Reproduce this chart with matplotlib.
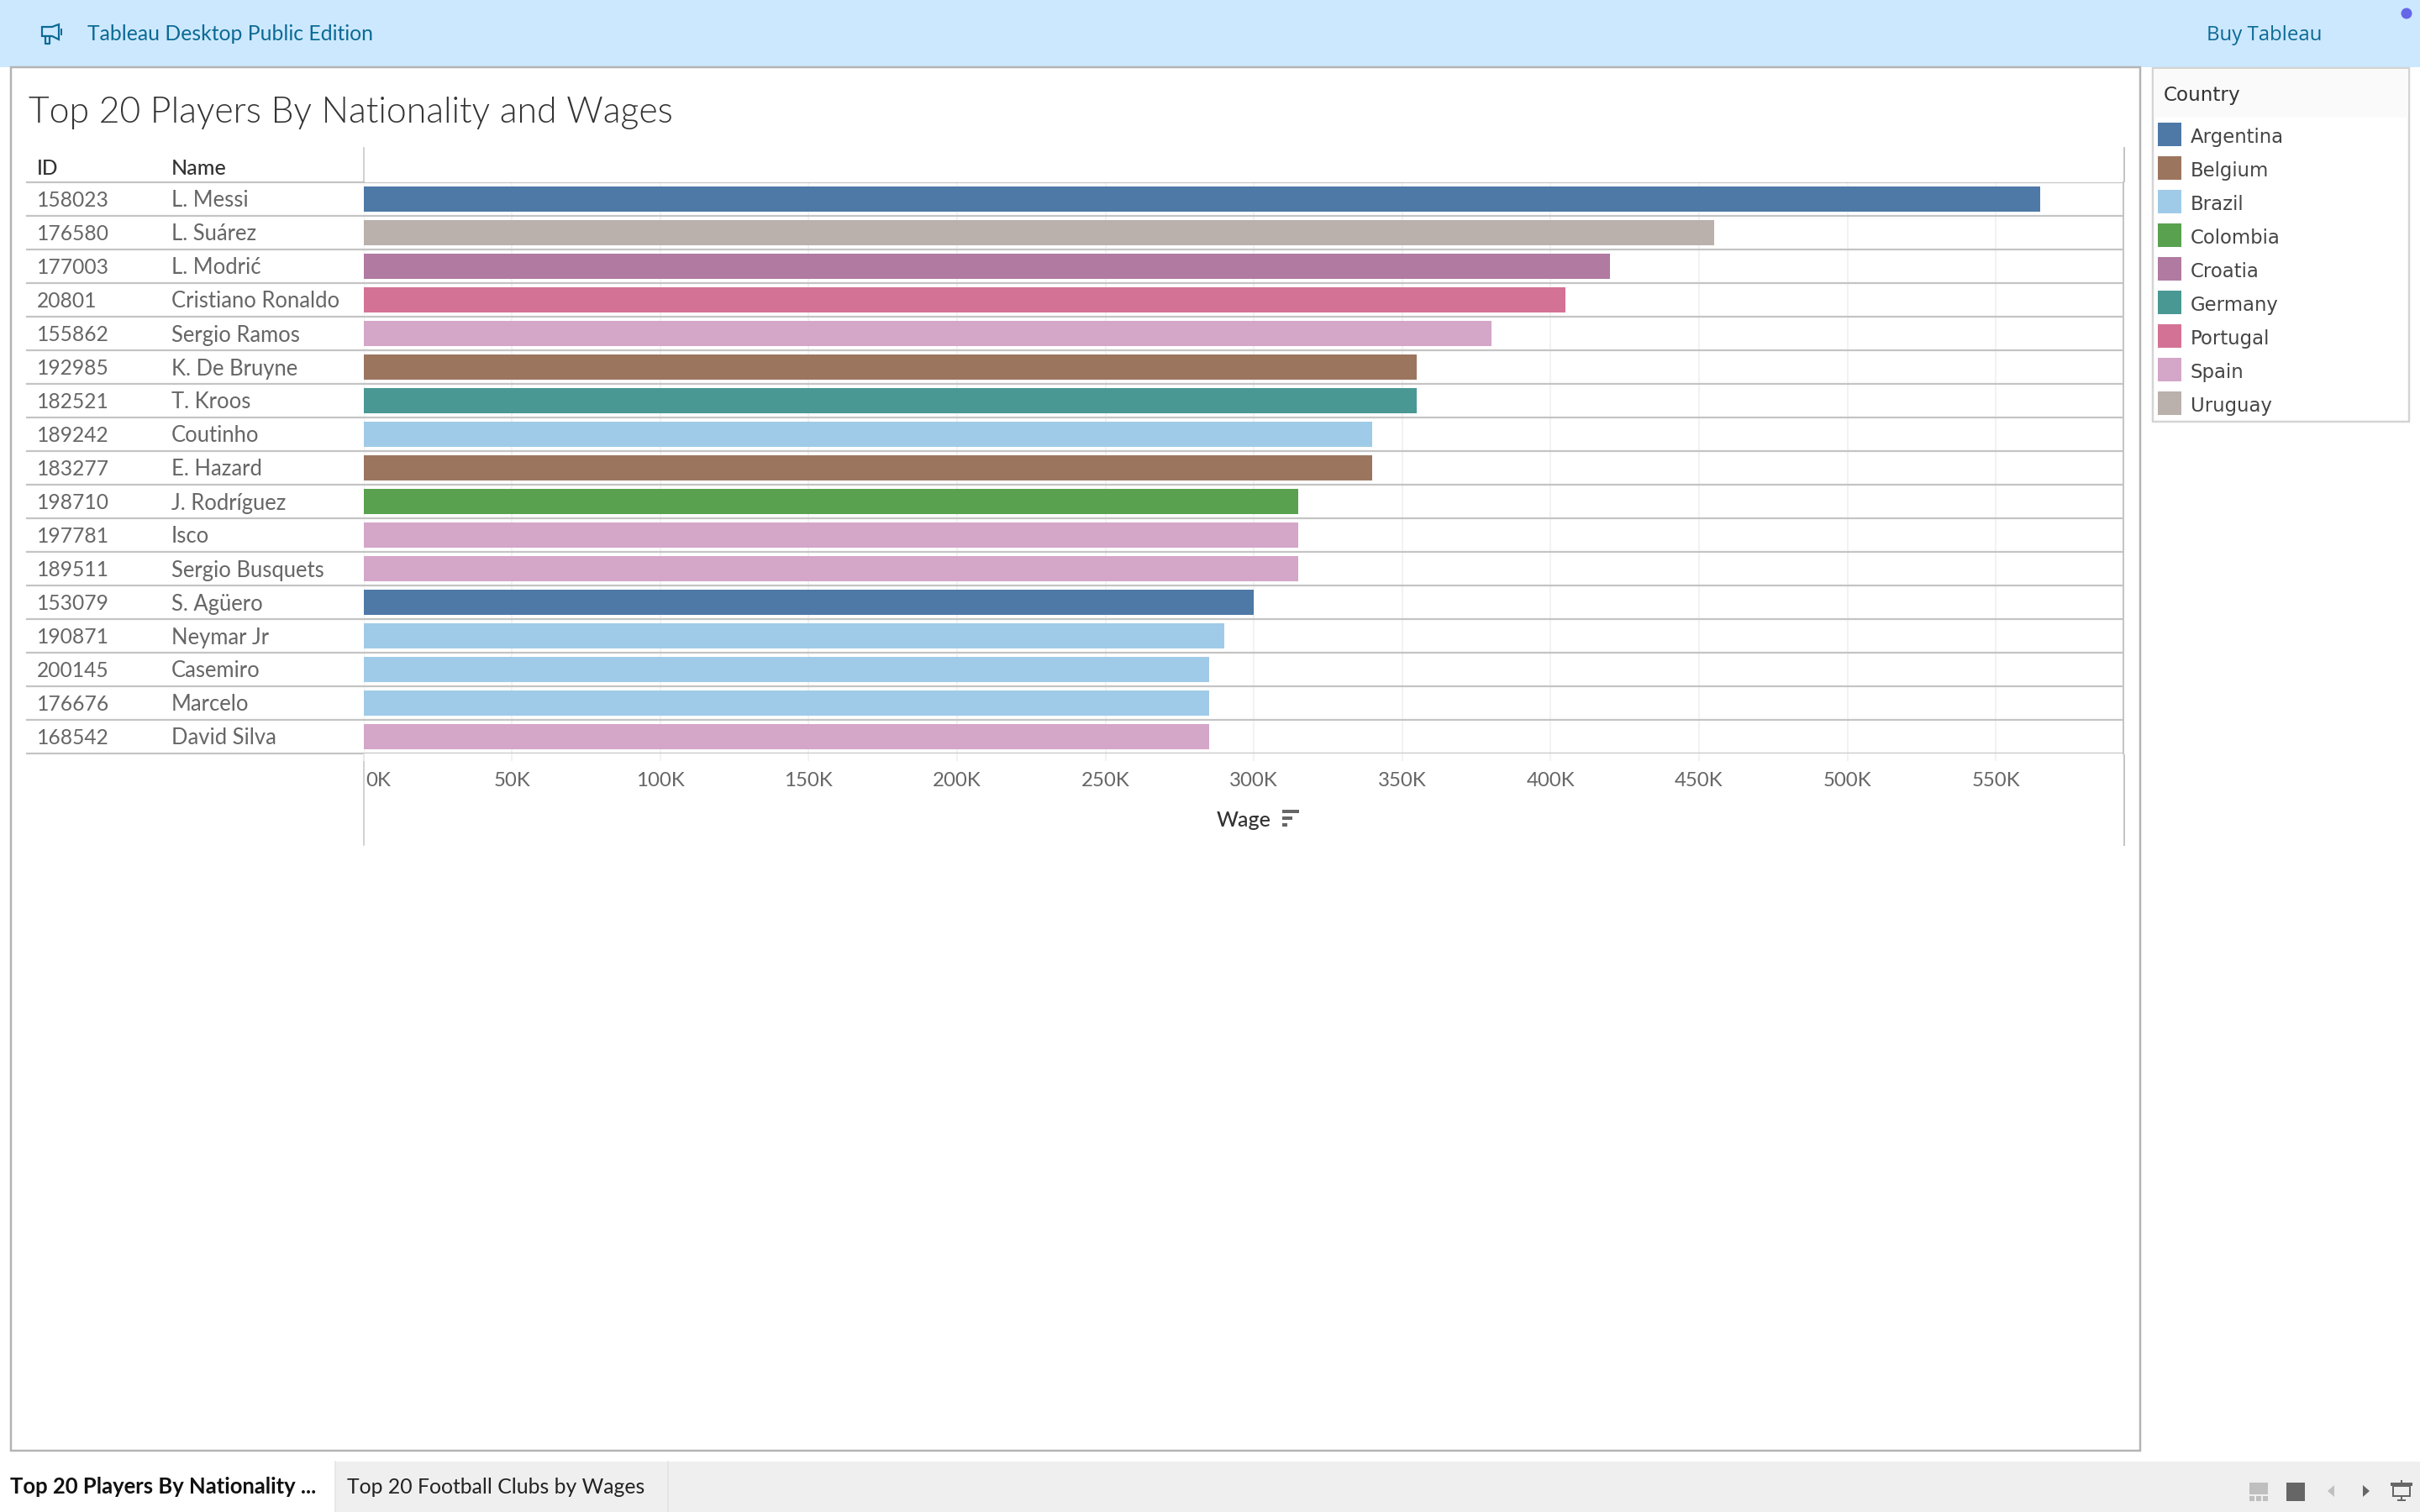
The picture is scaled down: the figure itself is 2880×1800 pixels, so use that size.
# coding: utf-8
import matplotlib
matplotlib.use("Agg")
import matplotlib.pyplot as plt
from matplotlib.patches import Rectangle, Polygon, Circle
from matplotlib.transforms import ScaledTranslation

ids = ["158023", "176580", "177003", "20801", "155862", "192985", "182521", "189242", "183277",
       "198710", "197781", "189511", "153079", "190871", "200145", "176676", "168542"]
names = ["L. Messi", "L. Suárez", "L. Modrić", "Cristiano Ronaldo", "Sergio Ramos", "K. De Bruyne",
         "T. Kroos", "Coutinho", "E. Hazard", "J. Rodríguez", "Isco", "Sergio Busquets", "S. Agüero",
         "Neymar Jr", "Casemiro", "Marcelo", "David Silva"]
wages = [565, 455, 420, 405, 380, 355, 355, 340, 340, 315, 315, 315, 300, 290, 285, 285, 285]
player_country = ["Argentina", "Uruguay", "Croatia", "Portugal", "Spain", "Belgium", "Germany", "Brazil",
                  "Belgium", "Colombia", "Spain", "Spain", "Argentina", "Brazil", "Brazil", "Brazil", "Spain"]
countries = ["Argentina", "Belgium", "Brazil", "Colombia", "Croatia", "Germany", "Portugal", "Spain", "Uruguay"]
country_colors = ["#4e79a7", "#9c755f", "#a0cbe8", "#59a14f", "#b07aa1", "#499894", "#d37295", "#d4a6c8", "#bab0ac"]
wage_ticks = [0, 50, 100, 150, 200, 250, 300, 350, 400, 450, 500, 550]

W, H = 2880, 1800
PX = 72 / 100  # one pixel in points

fig = plt.figure(figsize=(W / 100, H / 100), dpi=100, facecolor="white")

# page chrome, drawn in pixel coordinates
page = fig.add_axes([0, 0, 1, 1], zorder=0)
page.set_xlim(0, W)
page.set_ylim(H, 0)
page.axis("off")

BODY = "Lato"
LINE = "#c4c4c4"
TEAL = "#0b6a94"


def label(x, y, s, size, color="#666666", family=BODY, weight="normal", ha="left"):
    page.text(x, y, s, fontsize=size * PX, color=color, family=family, weight=weight, ha=ha, va="baseline")


def box(x0, y0, x1, y1, **kw):
    page.add_patch(Rectangle((x0, y0), x1 - x0, y1 - y0, **kw))


box(0, 0, W, 80, fc="#cce8ff", ec="none")
box(13, 80, 2547, 1727, fc="white", ec="#b4b4b4", lw=2.5 * PX)

# top banner
page.add_patch(Polygon([(50, 32), (62, 32), (70, 29), (70, 47), (62, 43), (50, 43)], closed=True,
                       fc="none", ec=TEAL, lw=2.2 * PX))
page.plot([54, 54, 59, 59], [43, 52, 52, 43], color=TEAL, lw=2.2 * PX)
page.plot([73, 73], [35, 41], color=TEAL, lw=2 * PX)
label(104, 48, "Tableau Desktop Public Edition", 24.8, TEAL, family="Lato")
label(2626, 48, "Buy Tableau", 24, TEAL, family="Open Sans")
page.add_patch(Circle((2864, 16), 6.5, fc="#6666e8", ec="none"))

label(34, 146, "Top 20 Players By Nationality and Wages", 42.7, "#333333", weight=300)

# table header and rows
label(44, 208, "ID", 24.5, "#333333", weight="medium")
label(204, 208, "Name", 25, "#333333", weight="medium")
page.plot([433, 433], [176, 216], color=LINE, lw=1.5 * PX)
page.plot([2528, 2528], [176, 216], color=LINE, lw=2 * PX)
page.plot([433, 433], [899, 1006], color=LINE, lw=1.5 * PX)
page.plot([2528, 2528], [899, 1006], color=LINE, lw=2 * PX)
page.plot([2527, 2527], [217, 897], color=LINE, lw=2 * PX)
for i in range(18):
    page.plot([32, 433], [217 + 40 * i, 217 + 40 * i], color=LINE, lw=2.2 * PX)
for i, (pid, name) in enumerate(zip(ids, names)):
    label(44, 246.5 + 40 * i, pid, 24.6)
    label(204, 246.5 + 40 * i, name, 25.6)

# the bars
ax = fig.add_axes([432.5 / W, 1 - 897 / H, (2527 - 432.5) / W, 680 / H], zorder=1)
ax.patch.set_alpha(0)
colors = [country_colors[countries.index(c)] for c in player_country]
ax.barh(range(len(wages)), wages, height=0.75, color=colors, zorder=3)
ax.set_xlim(0, (2527 - 432.5) / 3.532)
ax.set_ylim(16.5, -0.5)
ax.set_yticks([])
ax.set_xticks(wage_ticks)
ax.set_xticklabels([f"{t}K" for t in wage_ticks], fontsize=24 * PX, color="#666666", family=BODY)
ax.tick_params(axis="x", length=9 * PX, width=1.5 * PX, color="#eeeeee", pad=13 * PX)
ax.grid(axis="x", color="#eeeeee", lw=1.5 * PX, zorder=0)
for y in [i + 0.5 for i in range(-1, 17)]:
    ax.axhline(y, color=LINE, lw=2.2 * PX, zorder=2)
for side in ax.spines.values():
    side.set_visible(False)
first = ax.get_xticklabels()[0]
first.set_ha("left")
first.set_transform(first.get_transform() + ScaledTranslation(3 / 100, 0, fig.dpi_scale_trans))

# axis title and sort icon
label(1448, 984, "Wage", 25, "#333333", weight="medium")
box(1526, 964, 1546, 968, fc="#666666", ec="none")
box(1526, 972, 1538, 976, fc="#666666", ec="none")
box(1526, 980, 1532, 984, fc="#666666", ec="none")

# colour legend
box(2562, 81, 2867, 502, fc="white", ec="#d4d4d4", lw=2.5 * PX)
box(2563, 82, 2866, 140, fc="#fafafa", ec="none")
label(2575, 120, "Country", 23, "#333333", family="DejaVu Sans")
for i, (country, color) in enumerate(zip(countries, country_colors)):
    box(2568, 146 + 40 * i, 2596, 174 + 40 * i, fc=color, ec="none")
    label(2607, 170 + 40 * i, country, 22.8, "#444444", family="DejaVu Sans")

# tab strip
box(0, 1740, W, H, fc="#efefef", ec="none")
box(0, 1740, 399, H, fc="white", ec="none")
page.plot([399, 399], [1740, H], color="#e2e2e2", lw=1.5 * PX)
page.plot([795, 795], [1740, H], color="#e2e2e2", lw=1.5 * PX)
label(12, 1778, "Top 20 Players By Nationality ...", 25.6, "#111111", weight="bold")
label(413, 1778, "Top 20 Football Clubs by Wages", 24.7, "#222222")

# slideshow controls
box(2677, 1765, 2699, 1779, fc="#bfbfbf", ec="none")
for x in [2677, 2685, 2693]:
    box(x, 1781, x + 6, 1787, fc="#bfbfbf", ec="none")
box(2721, 1765, 2743, 1787, fc="#666666", ec="none")
page.add_patch(Polygon([(2778, 1768), (2778, 1782), (2770, 1775)], closed=True, fc="#c0c0c0", ec="none"))
page.add_patch(Polygon([(2812, 1768), (2812, 1782), (2820, 1775)], closed=True, fc="#666666", ec="none"))
box(2845, 1765, 2871, 1769, fc="#666666", ec="none")
box(2848, 1769, 2868, 1781, fc="none", ec="#666666", lw=2 * PX)
page.plot([2858, 2858], [1763, 1765], color="#666666", lw=2 * PX)
page.plot([2858, 2858], [1781, 1786], color="#666666", lw=2 * PX)
page.plot([2854, 2862], [1786, 1786], color="#666666", lw=2 * PX)

fig.savefig("out.png", dpi=100)
